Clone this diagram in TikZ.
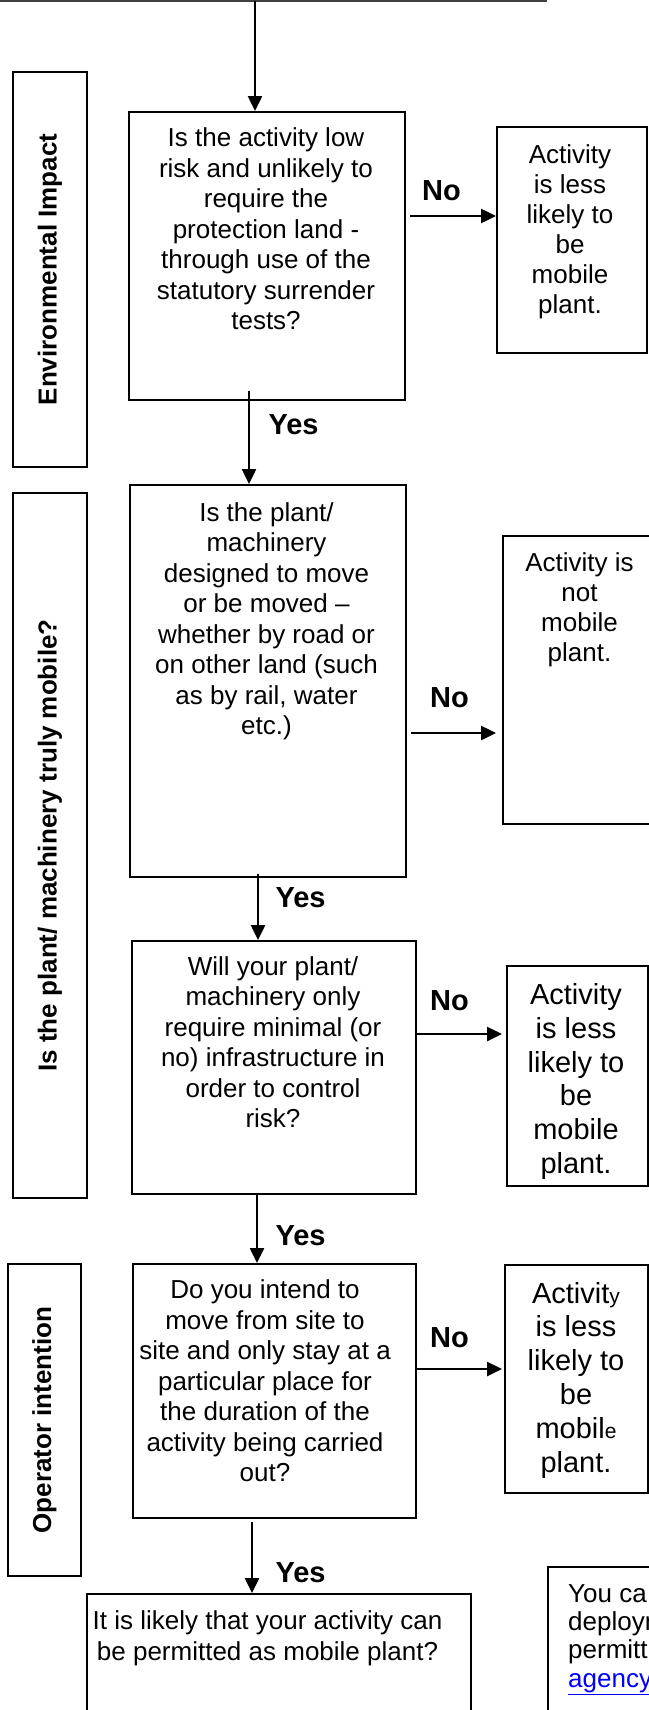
\documentclass[tikz,border=0pt]{standalone}
\usepackage{fontspec}
\setmainfont{Liberation Sans}
\usetikzlibrary{arrows.meta}
\begin{document}
\begin{tikzpicture}[x=1pt,y=-1pt,
  box/.style={draw=black, line width=2pt, inner sep=0pt, anchor=north west},
  txt/.style={anchor=base, align=center, inner sep=0pt, font=\fontsize{26}{30.5}\selectfont},
  bigtxt/.style={anchor=base, align=center, inner sep=0pt, font=\fontsize{29}{33.8}\selectfont},
  notetxt/.style={anchor=base west, align=left, inner sep=0pt, font=\fontsize{26}{28.3}\selectfont},
  yn/.style={anchor=base, inner sep=0pt, font=\fontsize{29}{34}\selectfont\bfseries},
  side/.style={draw=black, line width=2pt, rotate=90, inner sep=0pt, font=\fontsize{26}{30}\selectfont\bfseries},
  arr/.style={line width=2.5pt, -{Triangle[length=15pt,width=14pt]}},
  topline/.style={line width=2pt, draw=black!75}
]
\useasboundingbox (0,0) rectangle (648,1710);

% top line and entry arrow
\coordinate (tl) at (0,1);
\coordinate (tr) at (547,1);
\coordinate (top) at (255,1);
\draw[topline] (tl) -- (tr);

% side label boxes
\node[side, minimum width=395pt, minimum height=74pt] (s1) at (50,269.5) {Environmental Impact};
\node[side, minimum width=705pt, minimum height=74pt] (s2) at (50,845.5) {Is the plant/ machinery truly mobile?};
\node[side, minimum width=312pt, minimum height=73pt] (s3) at (44.5,1420) {Operator intention};

% question boxes
\node[box, minimum width=276pt, minimum height=288pt] (b1) at (128,111) {};
\node[box, minimum width=276pt, minimum height=392pt] (b2) at (129,484) {};
\node[box, minimum width=284pt, minimum height=253pt] (b3) at (131,940) {};
\node[box, minimum width=283pt, minimum height=254pt] (b4) at (132,1263) {};
\node[box, minimum width=384pt, minimum height=140pt] (fin) at (86,1593) {};

% outcome boxes
\node[box, minimum width=150pt, minimum height=226pt] (r1) at (496,126) {};
\node[box, minimum width=158pt, minimum height=288pt] (r2) at (502,535) {};
\node[box, minimum width=141pt, minimum height=220pt] (r3) at (506,965) {};
\node[box, minimum width=143pt, minimum height=228pt] (r4) at (504,1264) {};
\node[box, minimum width=150pt, minimum height=170pt] (note) at (547,1566) {};

% texts (anchored at the baseline of their last line)
\node[txt] (t1) at (266,329.5) {Is the activity low\\risk and unlikely to\\require the\\protection land -\\through use of the\\statutory surrender\\tests?};
\node[txt] (t2) at (266.5,734.5) {Is the plant/\\machinery\\designed to move\\or be moved –\\whether by road or\\on other land (such\\as by rail, water\\etc.)};
\node[txt] (t3) at (273,1127.5) {Will your plant/\\machinery only\\require minimal (or\\no) infrastructure in\\order to control\\risk?};
\node[txt] (t4) at (265,1481.5) {Do you intend to\\move from site to\\site and only stay at a\\particular place for\\the duration of the\\activity being carried\\out?};
\node[txt] (tf) at (267.5,1660) {It is likely that your activity can\\be permitted as mobile plant?};

\node[txt, font=\fontsize{26}{30}\selectfont] (u1) at (570,313) {Activity\\is less\\likely to\\be\\mobile\\plant.};
\node[txt, font=\fontsize{26}{30}\selectfont] (u2) at (579.5,661.5) {Activity is\\not\\mobile\\plant.};
\node[bigtxt] (u3) at (576,1173.5) {Activity\\is less\\likely to\\be\\mobile\\plant.};
\node[bigtxt] (u4) at (576,1472) {Activit{\fontsize{21}{25}\selectfont y}\\is less\\likely to\\be\\mobil{\fontsize{21}{25}\selectfont e}\\plant.};

\node[notetxt] (tn) at (568,1687) {You ca\\deploym\\permitt\\{\color{blue}\underline{agency}}};

% yes / no labels
\node[yn] (no1) at (441.5,200) {No};
\node[yn] (no2) at (449.5,707) {No};
\node[yn] (no3) at (449.5,1010) {No};
\node[yn] (no4) at (449.5,1347) {No};
\node[yn] (yes1) at (293.5,434) {Yes};
\node[yn] (yes2) at (300.5,907) {Yes};
\node[yn] (yes3) at (300.5,1245) {Yes};
\node[yn] (yes4) at (300.5,1582) {Yes};

% connector start points
\coordinate (y1s) at (249,391);
\coordinate (y2s) at (258,874);
\coordinate (y3s) at (257,1193);
\coordinate (y4s) at (252,1522);
\coordinate (n1s) at (410,216);
\coordinate (n2s) at (411,733);
\coordinate (n3s) at (417,1034);
\coordinate (n4s) at (417,1369);
\coordinate (n2e) at (496,733);
\coordinate (n3e) at (502,1034);
\coordinate (n4e) at (502,1369);

% arrows
\draw[arr] (top) -- (top |- b1.north);
\draw[arr] (y1s) -- (y1s |- b2.north);
\draw[arr] (y2s) -- (y2s |- b3.north);
\draw[arr] (y3s) -- (y3s |- b4.north);
\draw[arr] (y4s) -- (y4s |- fin.north);
\draw[arr] (n1s) -- (n1s -| r1.west);
\draw[arr] (n2s) -- (n2e);
\draw[arr] (n3s) -- (n3e);
\draw[arr] (n4s) -- (n4e);
\end{tikzpicture}
\end{document}
